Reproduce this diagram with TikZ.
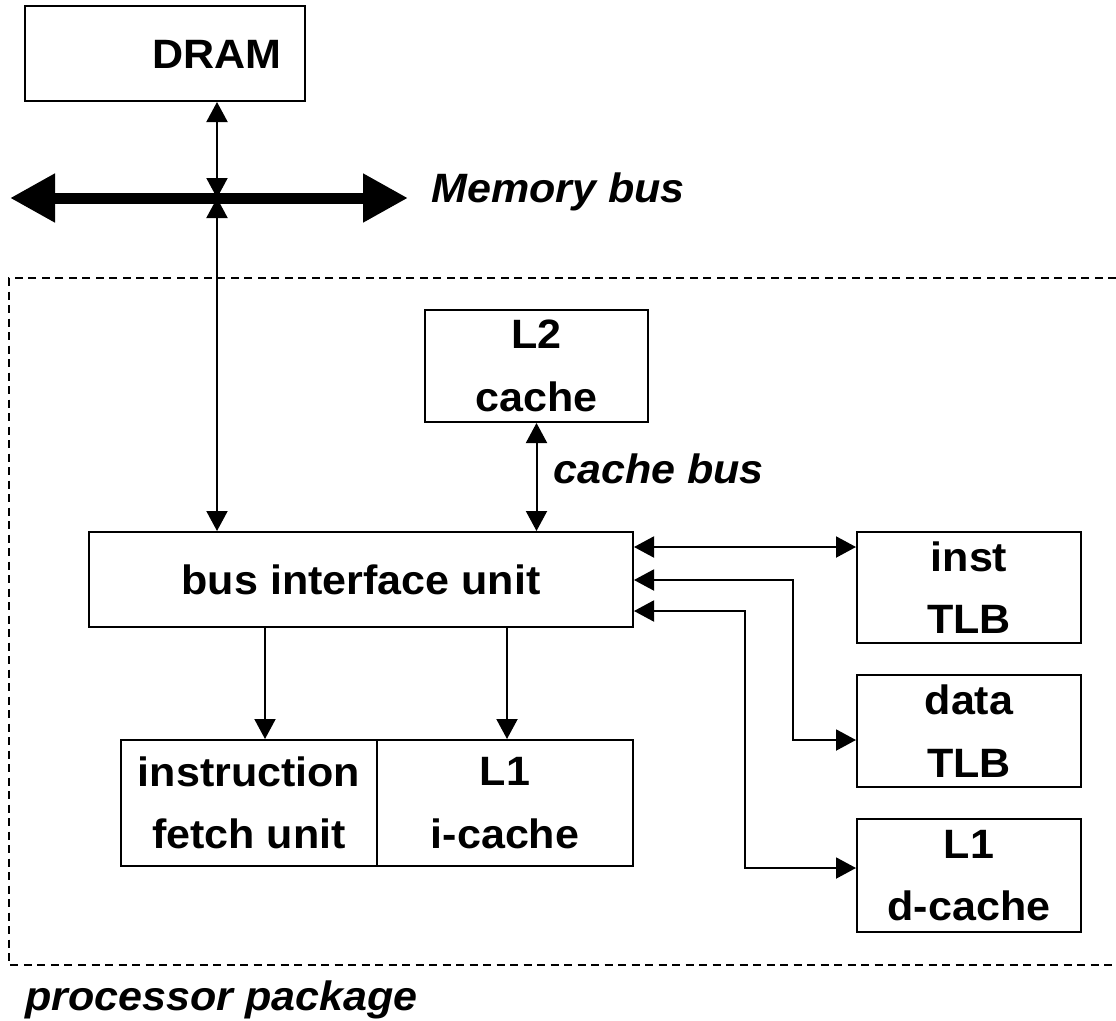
\documentclass[tikz,border=0pt]{standalone}
\usepackage{fontspec}
\setmainfont{Liberation Sans}[FakeStretch=1.05]
\usetikzlibrary{arrows.meta}
\newcommand\boxfont{\bfseries\fontsize{41}{62.5}\selectfont}
\begin{document}
\begin{tikzpicture}[x=1pt,y=-1pt,
  box/.style={draw, line width=2pt, inner sep=0pt, align=center, font=\boxfont},
  lbl/.style={inner sep=0pt, font=\boxfont},
  itlbl/.style={inner sep=0pt, font=\boxfont\itshape, anchor=base west},
  tip/.tip={Triangle[length=20pt,width=21pt]},
  bigtip/.tip={Triangle[length=45pt,width=46pt]},
  conn/.style={line width=2pt, tip-tip},
  feed/.style={line width=2pt, -tip},
  pkg/.style={line width=2.6pt, dash pattern=on 8pt off 5.5pt},
]
\useasboundingbox (0,0) rectangle (1116,1020);

% processor package outline (open on the right)
\draw[pkg] (1116,278) -- (9,278) -- (9,965) -- (1116,965);
\node[itlbl] (pkglabel) at (25,1010) {processor package};

% memory side
\node[box, minimum width=280pt, minimum height=95pt] (dram) at (165,53.5) {};
\node[lbl, anchor=base] (dramtext) at (217,68) {DRAM};

\coordinate (busL) at (10,198);
\coordinate (busR) at (408,198);
\coordinate (busJ) at (217,198);
\draw[line width=11pt, bigtip-bigtip] (busL) -- (busR);
\node[itlbl] (membus) at (431,202) {Memory bus};

% units inside the package
\node[box, minimum width=223pt, minimum height=112pt] (l2) at (536.5,366) {L2\\cache};
\node[box, minimum width=544pt, minimum height=95pt] (biu) at (361,579.5) {bus interface unit};
\node[box, minimum width=256pt, minimum height=126pt] (ifu) at (249,803) {instruction\\fetch unit};
\node[box, minimum width=256pt, minimum height=126pt] (l1i) at (505,803) {L1\\i-cache};
\node[box, minimum width=224pt, minimum height=111pt] (itlb) at (969,587.5) {inst\\TLB};
\node[box, minimum width=224pt, minimum height=112pt] (dtlb) at (969,731) {data\\TLB};
\node[box, minimum width=224pt, minimum height=113pt] (l1d) at (969,875.5) {L1\\d-cache};

% memory bus taps
\draw[conn] (busJ |- dram.south) -- (busJ);
\draw[conn] (busJ) -- (busJ |- biu.north);

% cache bus
\draw[conn] (l2.south) -- (l2.south |- biu.north);
\node[itlbl] (cachebus) at (553,483) {cache bus};

% instruction path
\coordinate (fx) at (265,0);
\coordinate (ix) at (507,0);
\draw[feed] (biu.south -| fx) -- (fx |- ifu.north);
\draw[feed] (biu.south -| ix) -- (ix |- l1i.north);

% TLB and data cache links
\coordinate (ra) at (0,547);
\coordinate (rb) at (793,580);
\coordinate (rc) at (745,611);
\coordinate (db) at (0,740);
\coordinate (dc) at (0,868);
\draw[conn] (biu.east |- ra) -- (itlb.west |- ra);
\draw[conn] (biu.east |- rb) -| (rb |- db) -- (dtlb.west |- db);
\draw[conn] (biu.east |- rc) -| (rc |- dc) -- (l1d.west |- dc);
\end{tikzpicture}
\end{document}
